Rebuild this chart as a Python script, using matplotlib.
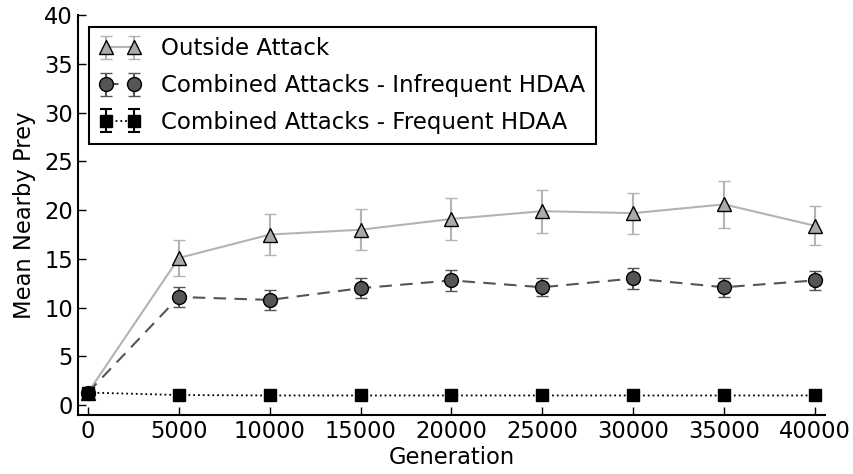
import matplotlib
matplotlib.use("Agg")
import matplotlib.pyplot as plt

generations = [0, 5000, 10000, 15000, 20000, 25000, 30000, 35000, 40000]

outside_mean = [1.3, 15.1, 17.5, 18.0, 19.1, 19.9, 19.7, 20.6, 18.4]
outside_err = [0.1, 1.8, 2.1, 2.1, 2.2, 2.2, 2.1, 2.4, 2.0]

infreq_mean = [1.3, 11.1, 10.8, 12.0, 12.8, 12.1, 13.0, 12.1, 12.8]
infreq_err = [0.1, 1.05, 1.0, 1.0, 1.1, 0.9, 1.1, 0.95, 1.0]

freq_mean = [1.3, 1.05, 1.0, 1.0, 1.0, 1.0, 1.0, 1.0, 1.0]
freq_err = [0.1, 0.05, 0.05, 0.05, 0.05, 0.05, 0.05, 0.05, 0.05]

labels = ["Outside Attack",
          "Combined Attacks - Infrequent HDAA",
          "Combined Attacks - Frequent HDAA"]

plt.rcParams['font.family'] = 'DejaVu Sans'
fig = plt.figure(figsize=(8.54, 4.74), dpi=100)
ax = fig.add_axes([0.0913, 0.1245, 0.8747, 0.8435])

ax.errorbar(generations, outside_mean, yerr=outside_err, color='#b3b3b3', ecolor='#b3b3b3',
            linestyle='-', linewidth=1.5, marker='^', markersize=10, markerfacecolor='#aaaaaa',
            markeredgecolor='black', markeredgewidth=1, capsize=4, elinewidth=1.5,
            capthick=1.5, label=labels[0])
ax.errorbar(generations, infreq_mean, yerr=infreq_err, color='#555555', ecolor='#555555',
            linestyle=(0, (6, 4)), linewidth=1.5, marker='o', markersize=10,
            markerfacecolor='#555555', markeredgecolor='black', markeredgewidth=1,
            capsize=4, elinewidth=1.5, capthick=1.5, label=labels[1])
ax.errorbar(generations, freq_mean, yerr=freq_err, color='black', ecolor='black',
            linestyle=':', linewidth=1.3, marker='s', markersize=9,
            markerfacecolor='black', markeredgecolor='black', capsize=4,
            elinewidth=1.5, capthick=1.5, label=labels[2])

ax.set_xlim(-550, 40550)
ax.set_ylim(-1, 40)
ax.set_xticks(generations)
ax.set_yticks(range(0, 41, 5))
ax.spines['top'].set_visible(False)
ax.spines['right'].set_visible(False)
ax.spines['left'].set_linewidth(1.5)
ax.spines['bottom'].set_linewidth(1.5)
ax.tick_params(direction='in', length=6, width=1, labelsize=16.3, top=False, right=False)
ax.set_xlabel("Generation", fontsize=16.3, labelpad=2)
ax.set_ylabel("Mean Nearby Prey", fontsize=16.3, labelpad=6)

leg = ax.legend(loc='upper left', bbox_to_anchor=(0.0147, 0.97), borderaxespad=0,
                fontsize=16.5, fancybox=False, edgecolor='black', framealpha=1,
                numpoints=2, handlelength=1.8, borderpad=0.45, labelspacing=0.6,
                handletextpad=0.9)
leg.get_frame().set_linewidth(1.5)

fig.savefig("out.png", dpi=100)
